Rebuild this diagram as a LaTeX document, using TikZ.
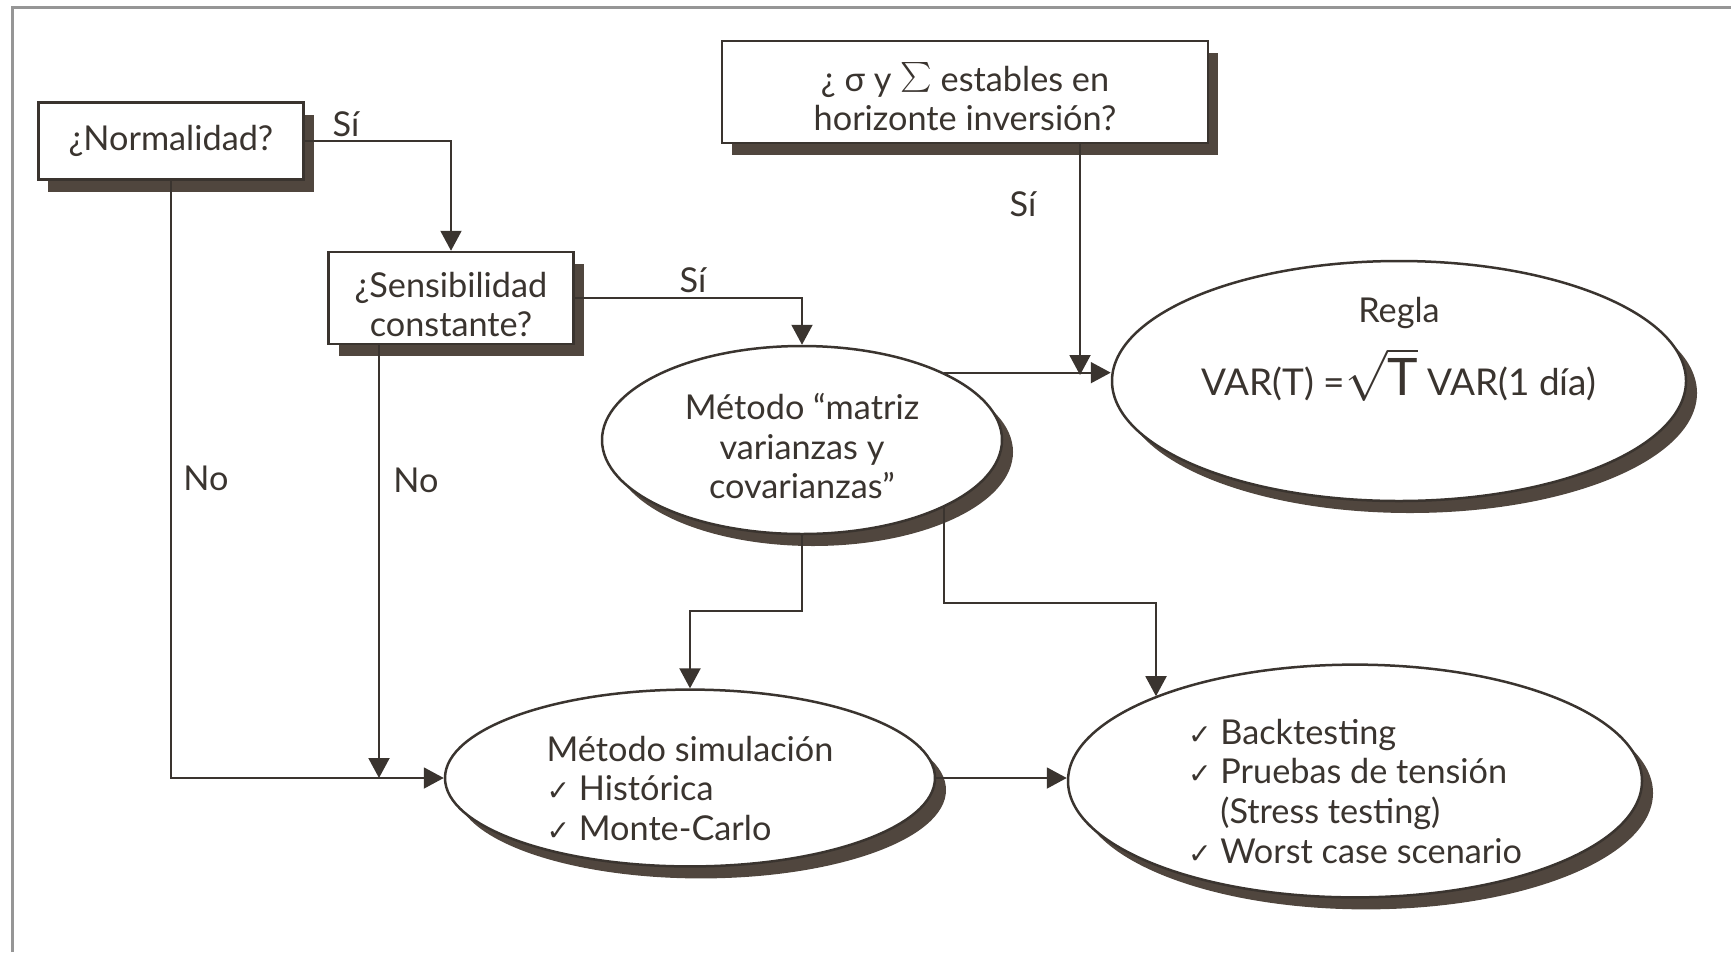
\documentclass[tikz,border=0pt]{standalone}
\usepackage{fontspec}
\usepackage{graphicx}
\setmainfont{Lato}
\newfontfamily\symfont{DejaVu Sans}
\usetikzlibrary{shapes.geometric,arrows.meta,shadows}
\definecolor{inkbrown}{RGB}{58,52,47}
\definecolor{shadebrown}{RGB}{80,70,62}
\definecolor{framegray}{RGB}{150,150,150}
\newcommand{\chk}{{\symfont\fontsize{16}{22}\selectfont ✓}\ }
\newcommand{\lowr}{\rule{0pt}{22pt}}

\begin{document}
\begin{tikzpicture}[x=0.2mm, y=-0.2mm,
    every node/.style={text=inkbrown, font=\fontsize{19.5}{22.5}\selectfont},
    qbox/.style={rectangle, draw=inkbrown, line width=0.5mm, fill=white, align=center, inner sep=0pt, drop shadow={shadow xshift=2mm, shadow yshift=-2.4mm, fill=shadebrown, opacity=1}},
    oval/.style={ellipse, draw=inkbrown, line width=0.5mm, fill=white, inner sep=0pt, drop shadow={shadow xshift=2.2mm, shadow yshift=-2.4mm, fill=shadebrown, opacity=1}},
    arrow/.style={-{Triangle[width=4.2mm,length=4mm]}, line width=0.4mm, draw=inkbrown}
]
    \useasboundingbox (0,0) rectangle (1731,952);
    \draw[framegray, line width=0.6mm] (12,952) -- (12,7) -- (1731,7);

    \node[qbox, minimum width=53mm, minimum height=15.4mm] (norm) at (171,141) {¿Normalidad?};
    \node[qbox, minimum width=49mm, minimum height=18.4mm] (sens) at (451,298) {\lowr¿Sensibilidad\\constante?};
    \node[qbox, minimum width=97.2mm, minimum height=20.4mm] (estab) at (965,92) {\lowr¿ σ y \raisebox{-1pt}{\scalebox{1.7}{$\sum$}} estables en\\horizonte inversión?};

    \node[oval, minimum width=80mm, minimum height=37.6mm, align=center] (matriz) at (802,440) {\lowr Método “matriz\\varianzas y\\covarianzas”};
    \node[oval, minimum width=114.8mm, minimum height=48mm, align=center] (regla) at (1399,381) {Regla\\[3.5mm]{\fontsize{21}{22.5}\selectfont VAR(T) =\scalebox{1.4}{$\sqrt{\mbox{T}}$} VAR(1 día)}\\[3.5mm]\strut};
    \node[oval, minimum width=98mm, minimum height=35.2mm, align=left] (sim) at (690,778) {\rule{0pt}{26pt}Método simulación\\\chk Histórica\\\chk Monte-Carlo};
    \node[oval, minimum width=114.8mm, minimum height=46mm, align=left] (back) at (1355,781) {\rule{0pt}{26pt}\chk Backtesting\\\chk Pruebas de tensión\\\phantom{\chk}(Stress testing)\\\chk Worst case scenario};

    \node (si1) at (346,124) {Sí};
    \node (si2) at (693,280) {Sí};
    \node (si3) at (1023,204) {Sí};
    \node (no1) at (206,478) {No};
    \node (no2) at (416,480) {No};

    \coordinate (nojoin) at (379,778);
    \coordinate (sigdown) at (1080,375);
    \coordinate (bkturn) at (1156,603);

    \draw[arrow] (norm.east) -| (sens.north);
    \draw[arrow] (sens.east) -| (matriz.north);
    \draw[arrow] (norm.south) |- (sim.west);
    \draw[arrow] (sens.south -| nojoin) -- (nojoin);
    \draw[arrow] (matriz.north east) -- (matriz.north east -| regla.west);
    \draw[arrow] (estab.south -| sigdown) -- (sigdown);
    \draw[arrow] (matriz.south) -- ++(0,76) -| (sim.north);
    \draw[arrow] (matriz.south east) |- (bkturn) -- (bkturn |- back.157);
    \draw[arrow] (sim.east) -- (sim.east -| back.west);
\end{tikzpicture}
\end{document}
